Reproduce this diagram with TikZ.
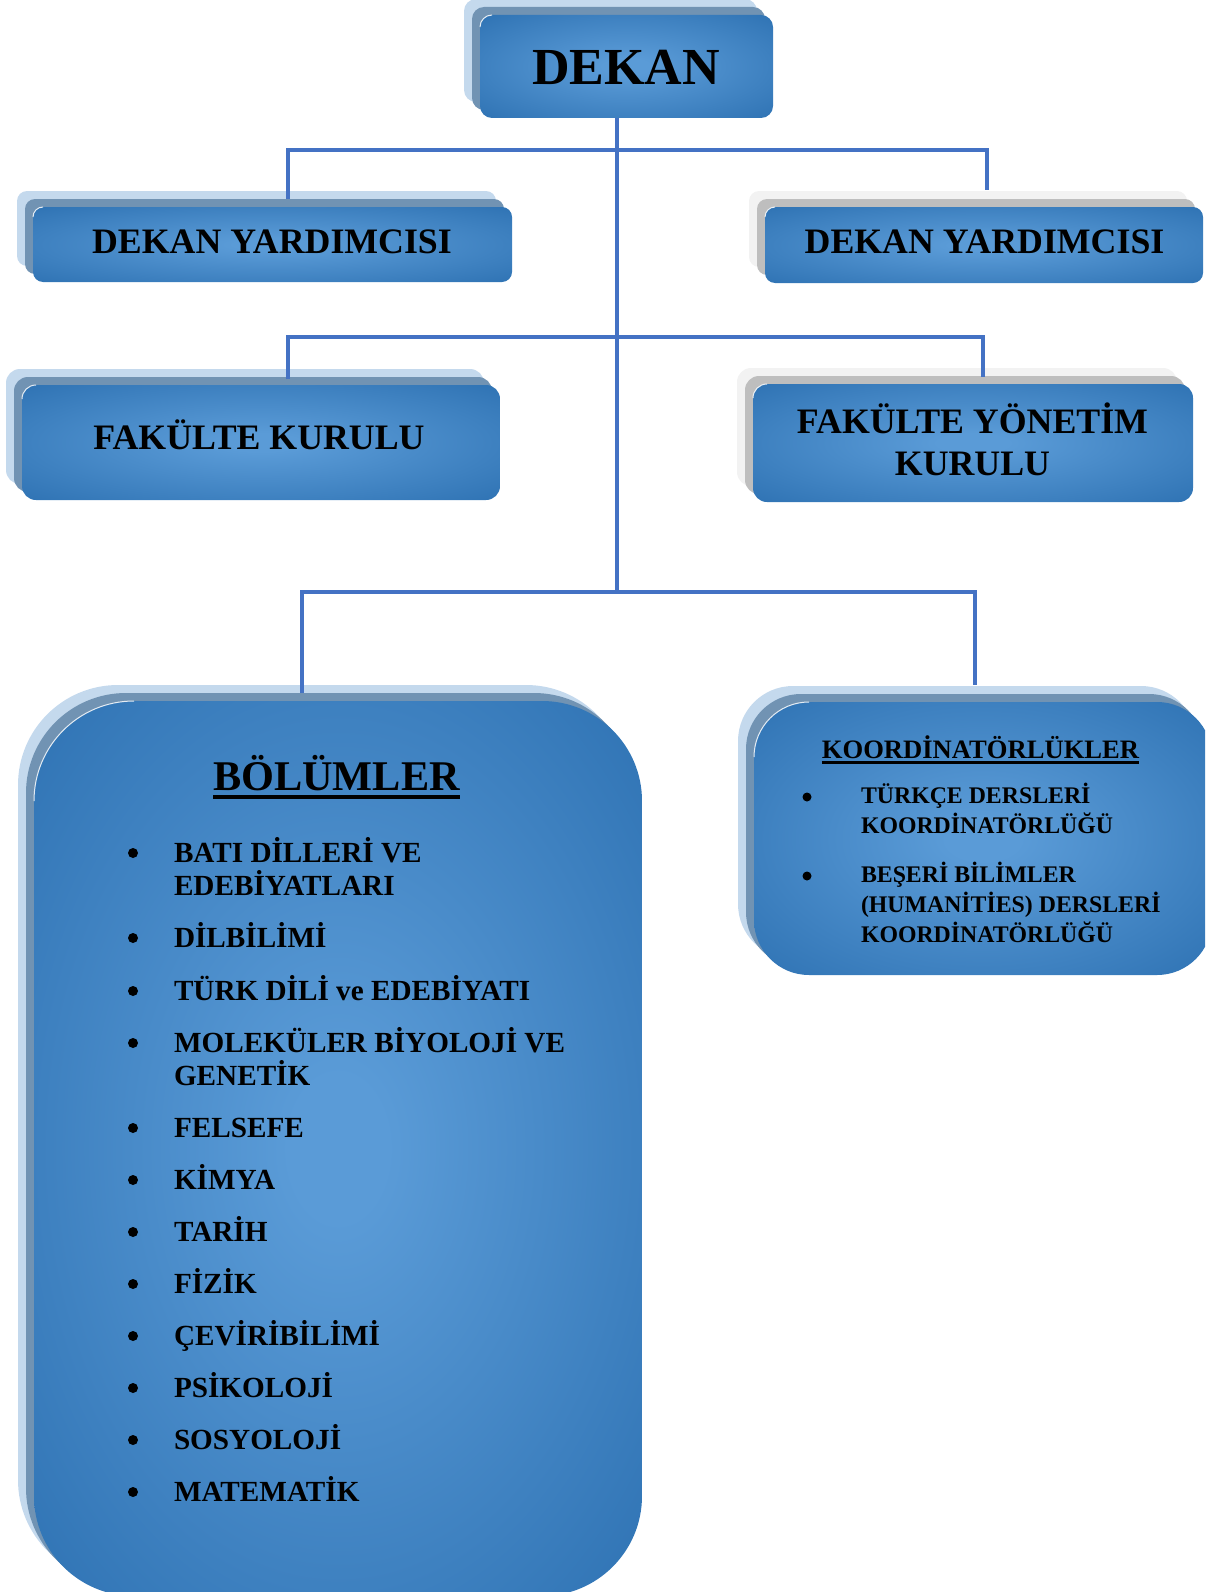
\documentclass[tikz,border=0pt]{standalone}
\usepackage{fontspec}
\setmainfont{Liberation Serif}
\usetikzlibrary{calc}
\definecolor{bxin}{RGB}{90,155,215}
\definecolor{bxout}{RGB}{45,113,178}
\definecolor{shLB}{RGB}{196,217,237}
\definecolor{shDB}{RGB}{113,147,179}
\definecolor{shLG}{RGB}{242,242,242}
\definecolor{shDG}{RGB}{190,190,190}
\definecolor{conncol}{RGB}{68,114,196}
\pgfdeclareradialshading{boxshade}{\pgfpoint{0bp}{0bp}}{color(0bp)=(bxin); color(4bp)=(bxin); color(37bp)=(bxout); color(72bp)=(bxout)}
\tikzset{
  conn/.style={draw=conncol, line width=3.5pt},
  mainbox/.style={shade, shading=boxshade, inner sep=0pt, outer sep=0pt, draw=none},
  txt/.style={inner sep=0pt, outer sep=0pt, text=black},
  glint/.style={draw=white, line width=1pt, opacity=0.85},
  fA/.style={txt, font=\fontsize{52}{60}\selectfont\bfseries},
  fB/.style={txt, font=\fontsize{35.8}{43}\selectfont\bfseries},
  fH/.style={txt, font=\fontsize{42.3}{50}\selectfont\bfseries},
  fL/.style={txt, font=\fontsize{29.2}{35}\selectfont\bfseries},
  fK/.style={txt, font=\fontsize{26.6}{32}\selectfont\bfseries},
  fS/.style={txt, font=\fontsize{23.8}{29}\selectfont\bfseries},
}
\newcommand{\obox}[8]{%
  \fill[#7, rounded corners=#6pt] ({#2-16},{#3-16}) rectangle ({#4-16},{#5-16});
  \fill[#8, rounded corners=#6pt] ({#2-8},{#3-8}) rectangle ({#4-8},{#5-8});
  \node[mainbox, rounded corners=#6pt, minimum width={(#4-#2)*1pt}, minimum height={(#5-#3)*1pt}] (#1) at ({(#2+#4)/2},{(#3+#5)/2}) {};
  \draw[glint] (#2,{#3+#6}) arc[start angle=180, end angle=270, radius=#6];
}
\begin{document}
\begin{tikzpicture}[x=1pt,y=-1pt]
\useasboundingbox (0,0) rectangle (1205,1592);
\clip (0,0) rectangle (1205,1592);

% boxes
\obox{dekan}{480}{15}{773}{118}{12}{shLB}{shDB}
\obox{dyL}{33}{207}{512}{282}{10}{shLB}{shDB}
\obox{dyR}{765}{207}{1203}{283}{10}{shLG}{shDG}
\obox{fk}{22}{385}{500}{500}{14}{shLB}{shDB}
\obox{fyk}{753}{384}{1193}{502}{14}{shLG}{shDG}
\obox{bol}{34}{701}{642}{1596}{100}{shLB}{shDB}
\obox{koord}{754}{702}{1212}{975}{55}{shLB}{shDB}

% junctions
\coordinate (j1) at (617,150);
\coordinate (j1L) at (288,150);
\coordinate (j1R) at (987,150);
\coordinate (j2L) at (288,337);
\coordinate (j2R) at (983,337);
\coordinate (j3) at (617,592);
\coordinate (j3L) at (302,592);
\coordinate (j3R) at (975,592);

% connectors
\draw[conn] (dekan.south -| j1) -- (j3);
\draw[conn] ($(dyL.north -| j1L)+(0,-8)$) -- (j1L) -- (j1R) -- ($(dyR.north -| j1R)+(0,-17)$);
\draw[conn] ($(fk.north -| j2L)+(0,-6)$) -- (j2L) -- (j2R) -- ($(fyk.north -| j2R)+(0,-7)$);
\draw[conn] ($(bol.north -| j3L)+(0,-8)$) -- (j3L) -- (j3R) -- ($(koord.north -| j3R)+(0,-17)$);

% texts
\node[fA, anchor=base] (tdekan) at (626,85) {DEKAN};
\node[fB, anchor=base] (tdyL) at (272,253) {DEKAN YARDIMCISI};
\node[fB, anchor=base] (tdyR) at (984.5,253) {DEKAN YARDIMCISI};
\node[fB, anchor=base] (tfk) at (259,449) {FAKÜLTE KURULU};
\node[fB, anchor=base] (tfyk1) at (972.5,433) {FAKÜLTE YÖNETİM};
\node[fB, anchor=base] (tfyk2) at (972.5,475) {KURULU};

% BOLUMLER
\node[fH, anchor=base] (bh) at (336.5,790) {BÖLÜMLER};
\draw[black, line width=3.5pt] ($(bh.base west)+(0,7)$) -- ($(bh.base east)+(0,7)$);
\node[fL, anchor=base west] (b1a) at (174,862) {BATI DİLLERİ VE};
\node[fL, anchor=base west] (b1b) at (174,895) {EDEBİYATLARI};
\node[fL, anchor=base west] (b2) at (174,947) {DİLBİLİMİ};
\node[fL, anchor=base west] (b3) at (174,1000) {TÜRK DİLİ ve EDEBİYATI};
\node[fL, anchor=base west] (b4a) at (174,1052) {MOLEKÜLER BİYOLOJİ VE};
\node[fL, anchor=base west] (b4b) at (174,1085) {GENETİK};
\node[fL, anchor=base west] (b5) at (174,1137) {FELSEFE};
\node[fL, anchor=base west] (b6) at (174,1189) {KİMYA};
\node[fL, anchor=base west] (b7) at (174,1241) {TARİH};
\node[fL, anchor=base west] (b8) at (174,1293) {FİZİK};
\node[fL, anchor=base west] (b9) at (174,1345) {ÇEVİRİBİLİMİ};
\node[fL, anchor=base west] (b10) at (174,1397) {PSİKOLOJİ};
\node[fL, anchor=base west] (b11) at (174,1449) {SOSYOLOJİ};
\node[fL, anchor=base west] (b12) at (174,1501) {MATEMATİK};
\foreach \yy in {862,947,1000,1052,1137,1189,1241,1293,1345,1397,1449,1501}
  \fill[black] (133,\yy-9) circle (5);

% KOORDINATORLUKLER
\node[fK, anchor=base] (kh) at (980.5,758) {KOORDİNATÖRLÜKLER};
\draw[black, line width=2.5pt] ($(kh.base west)+(0,4.5)$) -- ($(kh.base east)+(0,4.5)$);
\node[fS, anchor=base west] (k1a) at (861,803) {TÜRKÇE DERSLERİ};
\node[fS, anchor=base west] (k1b) at (861,833) {KOORDİNATÖRLÜĞÜ};
\node[fS, anchor=base west] (k2a) at (861,882) {BEŞERİ BİLİMLER};
\node[fS, anchor=base west] (k2b) at (861,912) {(HUMANİTİES) DERSLERİ};
\node[fS, anchor=base west] (k2c) at (861,942) {KOORDİNATÖRLÜĞÜ};
\fill[black] (807,797) circle (4.5);
\fill[black] (807,876) circle (4.5);
\end{tikzpicture}
\end{document}
